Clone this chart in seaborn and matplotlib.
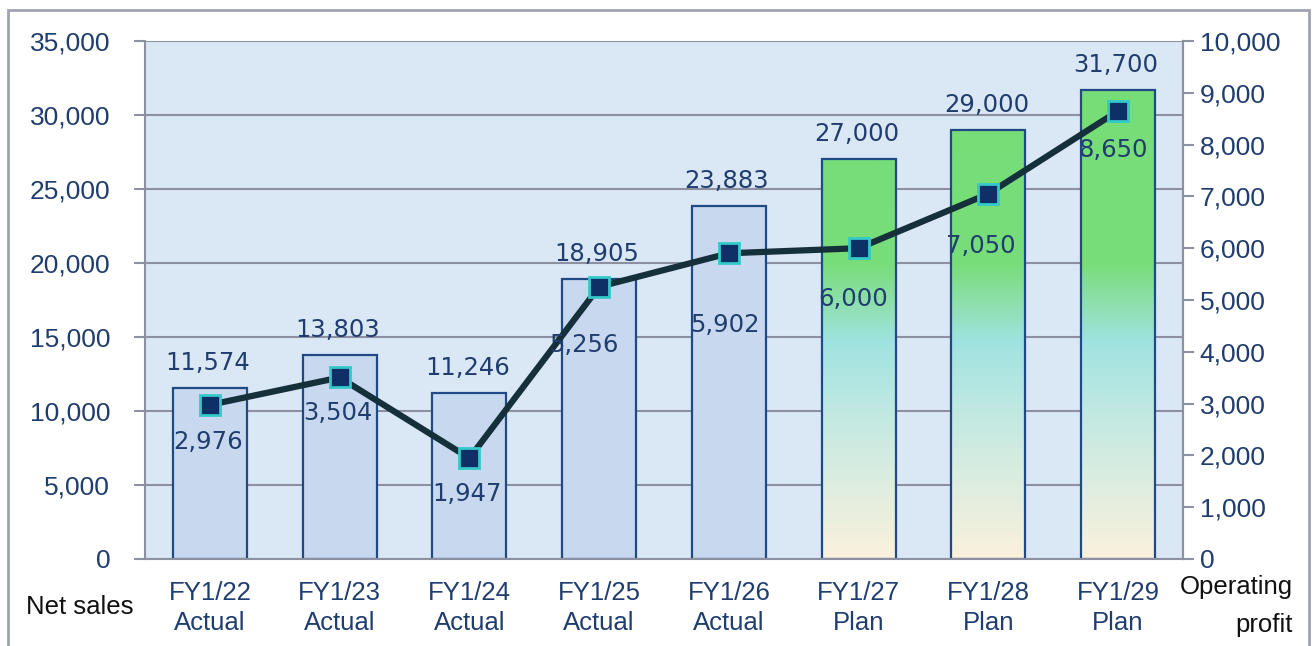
import numpy as np
import matplotlib
matplotlib.use('Agg')
import matplotlib.pyplot as plt
from matplotlib.colors import LinearSegmentedColormap
from matplotlib.patches import Rectangle
import seaborn as sns

# data
categories = ['FY1/22\nActual', 'FY1/23\nActual', 'FY1/24\nActual', 'FY1/25\nActual',
              'FY1/26\nActual', 'FY1/27\nPlan', 'FY1/28\nPlan', 'FY1/29\nPlan']
net_sales = [11574, 13803, 11246, 18905, 23883, 27000, 29000, 31700]
op_profit = [2976, 3504, 1947, 5256, 5902, 6000, 7050, 8650]
is_plan = [False, False, False, False, False, True, True, True]

# label nudges (pixels) for the profit labels, as placed in the original
op_dx = [-2, -2, -2, -15, -4, -5, -8, -5]
op_dy = [-37, -36, -36, -58, -72, -51, -52, -39]

navy = '#1f3d6e'
grid_c = '#8c90a0'

sns.set_style('white')
plt.rcParams['font.family'] = ['Liberation Sans', 'DejaVu Sans']

fig = plt.figure(figsize=(13.14, 6.46), dpi=100)
ax = fig.add_axes([145 / 1314, 1 - 559 / 646, (1183 - 145) / 1314, (559 - 41) / 646])
ax.set_facecolor('#dae7f4')

pal = {c: ('#77dd77' if p else '#c8d9ef') for c, p in zip(categories, is_plan)}
sns.barplot(x=categories, y=net_sales, hue=categories, palette=pal, legend=False,
            width=0.57, edgecolor='#1f4a85', linewidth=1.6, saturation=1, ax=ax)

# gradient fill for plan bars
grad = LinearSegmentedColormap.from_list('plan', [
    (0.0, '#fbf1dc'), (0.15, '#dcede0'), (0.30, '#bde8e2'),
    (0.42, '#9fe3e0'), (0.50, '#8cdfa8'), (0.57, '#78dd7a'), (1.0, '#76dd76')])
gimg = np.linspace(0, 1, 256).reshape(-1, 1)
for patch, p in zip(ax.patches, is_plan):
    if p:
        x0 = patch.get_x()
        x1 = x0 + patch.get_width()
        im = ax.imshow(gimg, cmap=grad, extent=[x0, x1, 0, 35000], origin='lower',
                       aspect='auto', zorder=patch.get_zorder() - 0.01)
        im.set_clip_path(patch)
        patch.set_facecolor('none')

ax.set_xlim(-0.5, len(categories) - 0.5)
ax.set_ylim(0, 35000)
ax.set_yticks(np.arange(0, 35001, 5000))
ax.yaxis.set_major_formatter(matplotlib.ticker.FuncFormatter(lambda v, _: f'{int(v):,}'))
ax.grid(axis='y', color=grid_c, linewidth=1.5)
ax.set_axisbelow(True)

ax.set_xticks(range(len(categories)))
ax.set_xticklabels(categories, linespacing=1.3)
ax.set_xticks(np.arange(-0.5, len(categories)), minor=True)
ax.tick_params(axis='x', which='major', length=0, pad=16, labelsize=18.5, labelcolor=navy)
ax.tick_params(axis='x', which='minor', length=8, width=1.5, color=grid_c)
ax.tick_params(axis='y', length=8, width=1.5, color=grid_c, labelsize=19, labelcolor=navy, pad=17)
ax.set_xlabel('')
ax.spines['top'].set_visible(False)
for s in ['left', 'right', 'bottom']:
    ax.spines[s].set_color(grid_c)
    ax.spines[s].set_linewidth(1.5)

for i, v in enumerate(net_sales):
    ax.annotate(f'{v:,}', (i, v), xytext=(-2, 13), textcoords='offset pixels',
                ha='center', va='bottom', fontsize=17.5, color=navy,
                family='DejaVu Sans')

# operating profit on right axis
ax2 = ax.twinx()
ax2.set_facecolor('none')
ax2.plot(range(len(categories)), op_profit, color='#15303a', linewidth=4.5,
         marker='s', markersize=15, markerfacecolor='#0e3066',
         markeredgecolor='#35c8c8', markeredgewidth=2, zorder=5)
ax2.set_ylim(0, 10000)
ax2.set_yticks(np.arange(0, 10001, 1000))
ax2.yaxis.set_major_formatter(matplotlib.ticker.FuncFormatter(lambda v, _: f'{int(v):,}'))
ax2.tick_params(axis='y', length=8, width=1.5, color=grid_c, labelsize=19, labelcolor=navy, pad=4)
for s in ['top', 'left', 'bottom']:
    ax2.spines[s].set_visible(False)
ax2.spines['right'].set_color(grid_c)
ax2.spines['right'].set_linewidth(1.5)

for i, v in enumerate(op_profit):
    ax2.annotate(f'{v:,}', (i, v), xytext=(op_dx[i], op_dy[i]), textcoords='offset pixels',
                 ha='center', va='center', fontsize=17.5, color=navy,
                 family='DejaVu Sans', zorder=6)

fig.text(80 / 1314, 1 - 607 / 646, 'Net sales', ha='center', va='center', fontsize=18.5, color='#111111')
fig.text(1293 / 1314, 1 - 587 / 646, 'Operating', ha='right', va='center', fontsize=18.5, color='#111111')
fig.text(1293 / 1314, 1 - 625 / 646, 'profit', ha='right', va='center', fontsize=18.5, color='#111111')

# outer frame of the chart area
fig.add_artist(Rectangle((8 / 1314, -0.05), (1309 - 8) / 1314, 1.05 - 10 / 646,
                         transform=fig.transFigure, fill=False, edgecolor='#a0a4b0', linewidth=2))

fig.savefig('out.png', dpi=100)
